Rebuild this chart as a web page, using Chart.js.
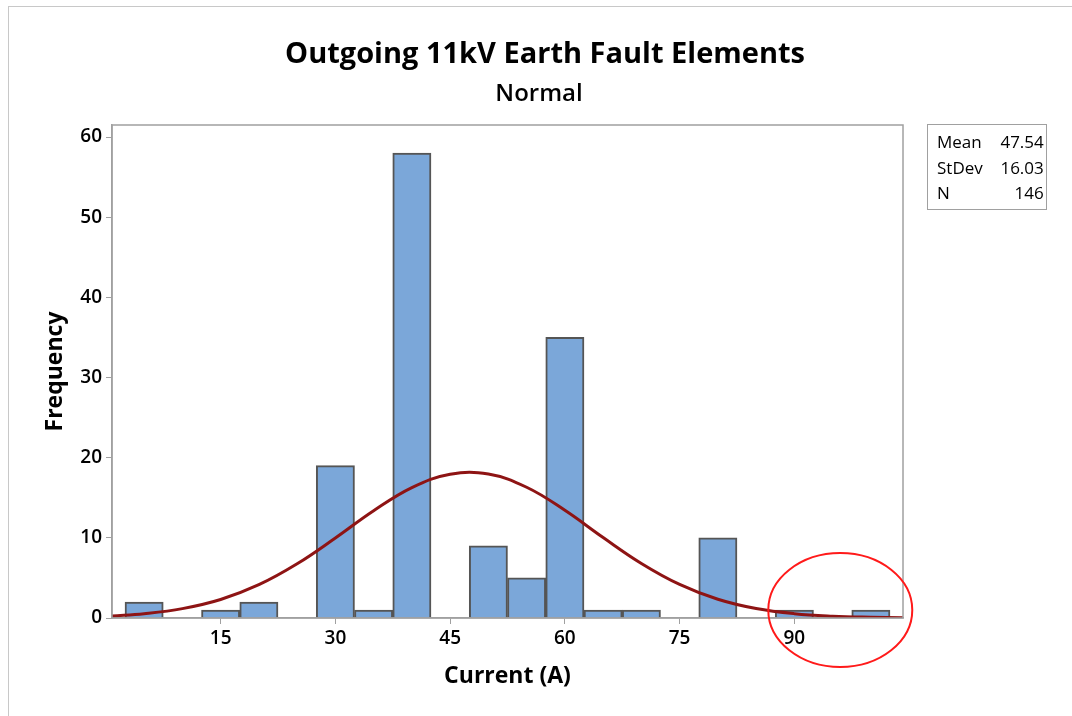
<!DOCTYPE html>
<html>
<head>
<meta charset="utf-8">
<script src="https://cdn.jsdelivr.net/npm/chart.js@4.4.1/dist/chart.umd.min.js"></script>
<style>
  html, body { margin: 0; padding: 0; background: #fff; }
  #wrap { position: relative; width: 1072px; height: 716px; overflow: hidden; font-family: "Open Sans", sans-serif; }
  #frame { position: absolute; left: 8px; top: 6px; width: 1100px; height: 800px; border-left: 1px solid #c8c8c8; border-top: 1px solid #c8c8c8; }
  canvas { position: absolute; left: 0; top: 0; }
  .title { position: absolute; transform: translateX(-50%); white-space: nowrap; color: #000; }
  #main-title { left: 545px; top: 32px; font-size: 29px; font-weight: 700; }
  #sub-title { left: 539px; top: 75px; font-size: 24px; font-weight: 600; }
  #stats { position: absolute; left: 927px; top: 124px; width: 118px; height: 84px; border: 1px solid #a0a0a0; font-size: 17px; }
  #stats table { border-collapse: collapse; margin: 4px 0 0 9px; }
  #stats td { padding: 0; line-height: 25.5px; }
  #stats td.val { text-align: right; padding-left: 6px; width: 55px; }
</style>
</head>
<body>
<div id="wrap">
  <div id="frame"></div>
  <canvas id="histChart" width="1072" height="716"></canvas>
  <div class="title" id="main-title">Outgoing 11kV Earth Fault Elements</div>
  <div class="title" id="sub-title">Normal</div>
  <div id="stats"><table id="statsTable"></table></div>
</div>
<script>
// histogram bins (centre of each 5 A bin) and counts
const binCenters = [5, 10, 15, 20, 25, 30, 35, 40, 45, 50, 55, 60, 65, 70, 75, 80, 85, 90, 95, 100];
const binCounts = [2, 0, 1, 2, 0, 19, 1, 58, 0, 9, 5, 35, 1, 1, 0, 10, 0, 1, 0, 1];

// fitted normal curve
const curveX = [0.8, 5, 10, 15, 20, 25, 30, 35, 40, 45, 50, 55, 60, 65, 70, 75, 80, 85, 90, 95, 100, 104.2];
const curveY = [0.26, 0.54, 1.17, 2.31, 4.15, 6.76, 9.98, 13.38, 16.27, 17.94, 17.96, 16.31, 13.44, 10.04, 6.81, 4.19, 2.34, 1.18, 0.54, 0.23, 0.09, 0.03];

// axis ticks
const xTicks = [15, 30, 45, 60, 75, 90];
const yTicks = [0, 10, 20, 30, 40, 50, 60];

// summary table
const statNames = ["Mean", "StDev", "N"];
const statValues = ["47.54", "16.03", "146"];

const statsTable = document.getElementById("statsTable");
statNames.forEach((name, i) => {
  const row = document.createElement("tr");
  row.innerHTML = `<td>${name}</td><td class="val">${statValues[i]}</td>`;
  statsTable.appendChild(row);
});

/** Frame round the plot area */
const plotFrame = {
  id: "plotFrame",
  afterDatasetsDraw(chart) {
    const { ctx, chartArea: a } = chart;
    ctx.save();
    ctx.strokeStyle = "#a0a0a0";
    ctx.lineWidth = 1.5;
    ctx.strokeRect(a.left, a.top, a.right - a.left, a.bottom - a.top);
    ctx.restore();
  },
};

/** Red hand-drawn ring around the right tail */
const tailRing = {
  id: "tailRing",
  afterDraw(chart) {
    const { ctx, scales } = chart;
    const cx = scales.x.getPixelForValue(96);
    const cy = scales.y.getPixelForValue(1);
    ctx.save();
    ctx.strokeStyle = "#ff1a1a";
    ctx.lineWidth = 2;
    ctx.beginPath();
    ctx.ellipse(cx, cy, 72, 57, 0, 0, Math.PI * 2);
    ctx.stroke();
    ctx.restore();
  },
};

const tickFont = { family: "Open Sans", size: 19, weight: "600" };
const axisTitleFont = { family: "Open Sans", size: 23, weight: "700" };

const ctx = document.getElementById("histChart").getContext("2d");
new Chart(ctx, {
  type: "bar",
  data: {
    datasets: [
      {
        type: "line",
        label: "Normal fit",
        data: curveX.map((x, i) => ({ x: x, y: curveY[i] })),
        borderColor: "#8e1414",
        borderWidth: 3,
        pointRadius: 0,
        tension: 0.4,
        fill: false,
        order: 0,
      },
      {
        label: "Frequency",
        data: binCenters.map((x, i) => ({ x: x, y: binCounts[i] > 0 ? binCounts[i] : null })),
        backgroundColor: "#7ba7d9",
        borderColor: "#555555",
        borderWidth: 2,
        barPercentage: 1,
        categoryPercentage: 1,
        order: 1,
      },
    ],
  },
  options: {
    responsive: false,
    animation: false,
    layout: { padding: { left: 30, right: 169, top: 125, bottom: 0 } },
    plugins: {
      legend: { display: false },
      tooltip: { enabled: false },
    },
    scales: {
      x: {
        type: "linear",
        offset: false,
        min: 0.8,
        max: 104.2,
        afterFit: (s) => { s.height = 98; },
        afterBuildTicks: (s) => { s.ticks = xTicks.map((v) => ({ value: v })); },
        grid: { offset: false, drawOnChartArea: false, tickLength: 6, color: "#a0a0a0" },
        border: { color: "#a0a0a0", width: 1.5 },
        ticks: { color: "#000", font: tickFont, padding: 3, maxRotation: 0 },
        title: { display: true, text: "Current (A)", color: "#000", font: axisTitleFont, padding: { top: 0, bottom: 26 } },
      },
      y: {
        min: 0,
        max: 61.5,
        afterFit: (s) => { s.width = 82; },
        afterBuildTicks: (s) => { s.ticks = yTicks.map((v) => ({ value: v })); },
        grid: { drawOnChartArea: false, tickLength: 6, color: "#a0a0a0" },
        border: { color: "#a0a0a0", width: 1.5 },
        ticks: { color: "#000", font: tickFont, padding: 4 },
        title: { display: true, text: "Frequency", color: "#000", font: axisTitleFont, padding: { top: 12, bottom: 0 } },
      },
    },
  },
  plugins: [plotFrame, tailRing],
});
</script>
</body>
</html>
